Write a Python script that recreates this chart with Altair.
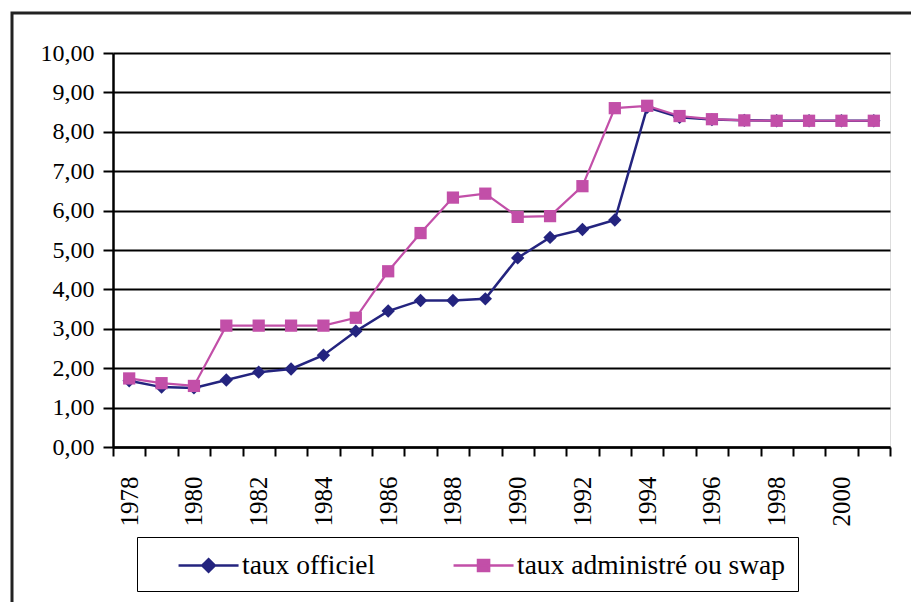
import altair as alt
import pandas as pd

years = [str(y) for y in range(1978, 2002)]
taux_officiel = [1.68, 1.52, 1.50, 1.70, 1.90, 1.98, 2.33, 2.94, 3.45, 3.72, 3.72, 3.76,
                 4.80, 5.32, 5.52, 5.76, 8.62, 8.37, 8.31, 8.29, 8.28, 8.28, 8.28, 8.28]
taux_swap = [1.74, 1.62, 1.55, 3.08, 3.08, 3.08, 3.08, 3.28, 4.46, 5.43, 6.33, 6.43,
             5.84, 5.86, 6.62, 8.60, 8.66, 8.40, 8.32, 8.29, 8.28, 8.28, 8.28, 8.28]
series_names = ["taux officiel", "taux administré ou swap"]
series_colors = ["#24247F", "#C24FA8"]
y_ticks = list(range(0, 11))

rows = []
for i, yr in enumerate(years):
    rows.append({"annee": yr, "valeur": taux_officiel[i], "serie": series_names[0]})
    rows.append({"annee": yr, "valeur": taux_swap[i], "serie": series_names[1]})
df = pd.DataFrame(rows)

FONT = "Liberation Serif"

x_enc = alt.X(
    "annee:O",
    sort=years,
    scale=alt.Scale(paddingInner=0, paddingOuter=0),
    axis=alt.Axis(
        title=None,
        tickBand="extent",
        labelAngle=270,
        labelExpr="toNumber(datum.value) % 2 == 0 ? datum.value : ''",
        labelFontSize=25,
        labelColor="black",
        labelPadding=20,
        tickSize=9,
        tickWidth=2,
        tickColor="black",
        domainColor="black",
        domainWidth=2.5,
        grid=False,
    ),
)
y_enc = alt.Y(
    "valeur:Q",
    scale=alt.Scale(domain=[0, 10], nice=False),
    axis=alt.Axis(
        title=None,
        values=y_ticks,
        labelExpr="replace(format(datum.value, '.2f'), '.', ',')",
        labelFontSize=24,
        labelColor="black",
        labelPadding=9,
        tickSize=10,
        tickWidth=2,
        tickColor="black",
        domainColor="black",
        domainWidth=2.5,
        grid=True,
        gridColor="black",
        gridWidth=2,
        gridOpacity=1,
    ),
)

base = alt.Chart(df)

layers = []
for name, color, shape, size, sw in [
    (series_names[0], series_colors[0], "diamond", 180, 2.5),
    (series_names[1], series_colors[1], "square", 150, 2.2),
]:
    sub = base.transform_filter(alt.datum.serie == name)
    layers.append(sub.mark_line(stroke=color, strokeWidth=sw).encode(x=x_enc, y=y_enc))
    layers.append(
        sub.mark_point(filled=True, opacity=1, shape=shape, size=size, fill=color).encode(x=x_enc, y=y_enc)
    )

# Legend symbols: a line with the marker in the middle (custom SVG paths)
legend_paths = [
    "M0.87,0H4.87M2.87,-0.42L3.29,0L2.87,0.42L2.45,0Z",
    "M0.87,0H4.87M2.5,-0.37H3.24V0.37H2.5Z",
]
col_scale = alt.Scale(domain=series_names, range=series_colors)

legend_layer = base.mark_point(filled=True, opacity=1, size=900, strokeWidth=2.5).encode(
    x=x_enc,
    y=y_enc,
    fill=alt.Fill("serie:N", scale=col_scale, legend=alt.Legend(title=None)),
    stroke=alt.Stroke("serie:N", scale=col_scale, legend=alt.Legend(title=None)),
    shape=alt.Shape(
        "serie:N",
        scale=alt.Scale(domain=series_names, range=legend_paths),
        legend=alt.Legend(
            title=None,
            orient="none",
            legendX=24,
            legendY=484,
            direction="horizontal",
            columns=2,
            columnPadding=48,
            padding=12,
            strokeColor="black",
            labelFontSize=27.5,
            labelColor="black",
            labelOffset=60,
            symbolSize=900,
            symbolStrokeWidth=2.5,
            labelLimit=400,
        ),
    ),
).transform_filter("false")

frame = alt.Chart(pd.DataFrame({"k": [0]})).mark_rect(
    filled=False, stroke="#222222", strokeWidth=3
).encode(
    x=alt.value(-101),
    x2=alt.value(900),
    y=alt.value(-40),
    y2=alt.value(700),
)

chart = alt.layer(frame, *layers, legend_layer).properties(
    width=777,
    height=394,
    autosize=alt.AutoSizeParams(type="none"),
    padding={"left": 105, "top": 45, "right": 21, "bottom": 155},
).configure_view(
    fill="#C0C0C0", stroke="#808080", strokeWidth=2
).configure_legend(
    strokeWidth=2
).configure(background="white", font=FONT)

chart.save("out.html", embed_options={"renderer": "svg", "actions": False})
